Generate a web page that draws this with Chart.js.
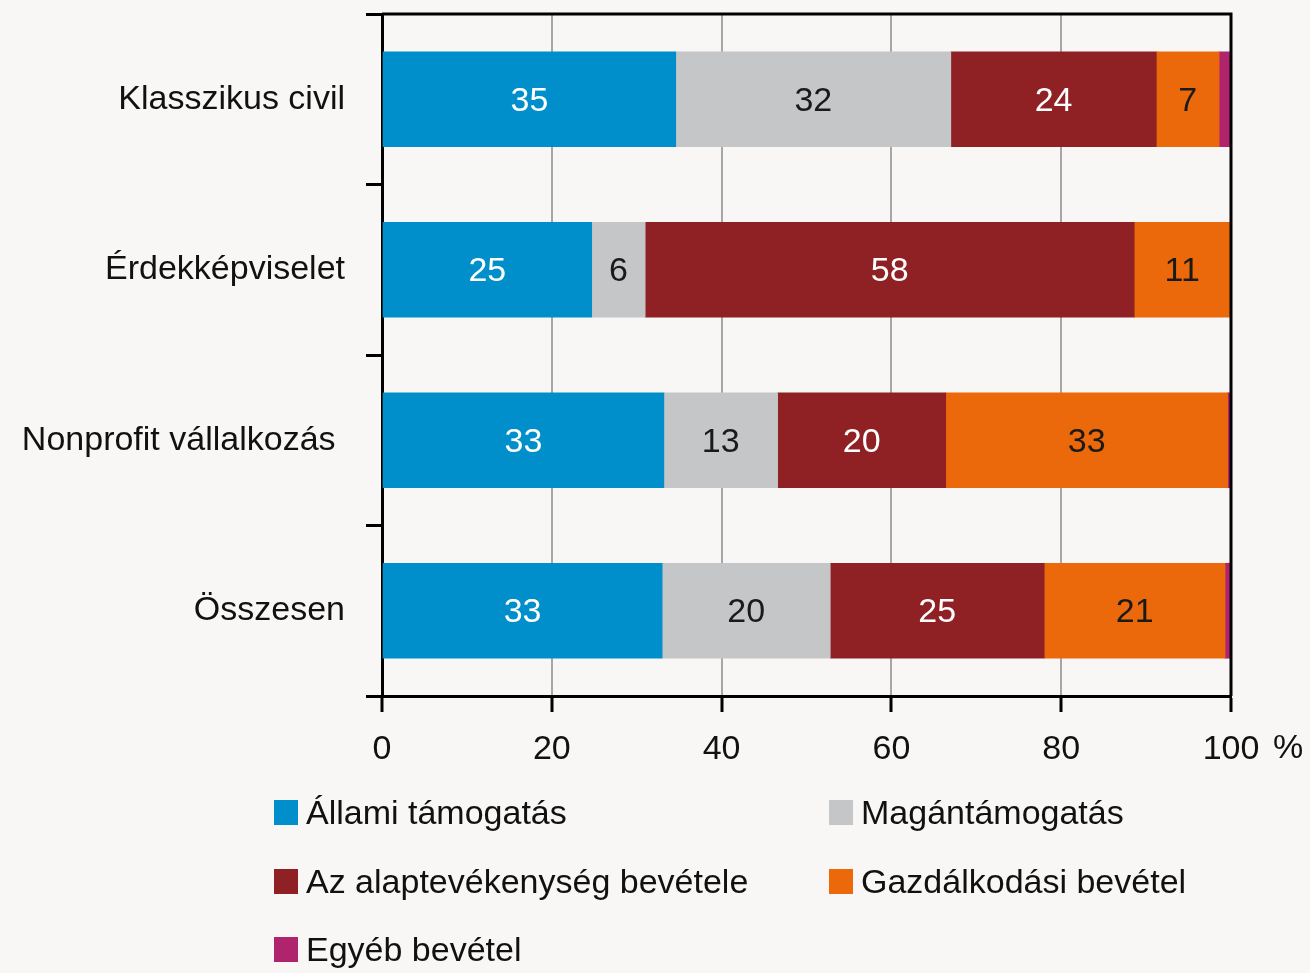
<!DOCTYPE html>
<html>
<head>
<meta charset="utf-8">
<script src="https://cdn.jsdelivr.net/npm/chart.js@4.4.0/dist/chart.umd.min.js"></script>
<style>
  html, body { margin: 0; padding: 0; background: #f8f7f5; }
  #wrap { position: relative; width: 1310px; height: 973px; }
  #chart { position: absolute; left: 0; top: 0; }
  .leg { position: absolute; display: flex; align-items: center; white-space: nowrap;
         font: 34px 'Liberation Sans', Arial, sans-serif; color: #111; }
  .leg .box { width: 24px; height: 25px; margin-right: 8px; }
</style>
</head>
<body>
<div id="wrap">
  <canvas id="chart" width="1310" height="973"></canvas>
</div>
<script>
const categories = ['Klasszikus civil', 'Érdekképviselet', 'Nonprofit vállalkozás ', 'Összesen'];
const allamiTamogatas = [34.6, 24.7, 33.2, 33.0];
const maganTamogatas  = [32.4,  6.3, 13.4, 19.8];
const alaptevekenyseg = [24.2, 57.6, 19.8, 25.2];
const gazdalkodasi    = [ 7.4, 11.3, 33.2, 21.3];
const egyebBevetel    = [ 1.4,  0.1,  0.4,  0.7];
const xTickValues     = [0, 20, 40, 60, 80, 100];

const FONT = "'Liberation Sans', Arial, sans-serif";

const datasets = [
  { label: 'Állami támogatás', data: allamiTamogatas, backgroundColor: '#008fca', labelColor: '#ffffff' },
  { label: 'Magántámogatás', data: maganTamogatas, backgroundColor: '#c5c6c8', labelColor: '#1a1a1a' },
  { label: 'Az alaptevékenység bevétele', data: alaptevekenyseg, backgroundColor: '#8f2024', labelColor: '#ffffff' },
  { label: 'Gazdálkodási bevétel', data: gazdalkodasi, backgroundColor: '#eb690b', labelColor: '#1a1a1a' },
  { label: 'Egyéb bevétel', data: egyebBevetel, backgroundColor: '#b0246e', labelColor: null }
];

// value numbers inside the segments
const valueLabels = {
  id: 'valueLabels',
  afterDatasetsDraw(chart) {
    const ctx = chart.ctx;
    ctx.save();
    ctx.font = '34px ' + FONT;
    ctx.textAlign = 'center';
    ctx.textBaseline = 'middle';
    chart.data.datasets.forEach((ds, i) => {
      if (!ds.labelColor) return;
      ctx.fillStyle = ds.labelColor;
      chart.getDatasetMeta(i).data.forEach((bar, j) => {
        const { x, y, base } = bar.getProps(['x', 'y', 'base'], true);
        ctx.fillText(String(Math.round(ds.data[j])), (x + base) / 2, y + 2);
      });
    });

    // top and right frame lines
    const a = chart.chartArea;
    ctx.strokeStyle = '#000';
    ctx.lineWidth = 3;
    ctx.beginPath();
    ctx.moveTo(a.left, a.top);
    ctx.lineTo(a.right, a.top);
    ctx.lineTo(a.right, a.bottom);
    ctx.stroke();

    // unit after the last x tick
    ctx.fillStyle = '#111';
    ctx.fillText('%', a.right + 57, a.bottom + 16 + 17 + 20);
    ctx.restore();
  }
};

new Chart(document.getElementById('chart'), {
  type: 'bar',
  data: { labels: categories, datasets },
  options: {
    indexAxis: 'y',
    responsive: false,
    animation: false,
    devicePixelRatio: 1,
    barThickness: 95,
    layout: { padding: { top: 14, right: 79, bottom: 0, left: 0 } },
    plugins: { legend: { display: false }, tooltip: { enabled: false } },
    scales: {
      x: {
        stacked: true,
        min: 0,
        max: 100,
        afterBuildTicks(scale) { scale.ticks = xTickValues.map(v => ({ value: v })); },
        ticks: { padding: 17, color: '#111', font: { family: FONT, size: 34 } },
        grid: { color: '#a6a6a6', lineWidth: 2, tickColor: '#000', tickWidth: 3, tickLength: 16 },
        border: { color: '#000', width: 3 },
        afterFit(scale) { scale.height = 277; }
      },
      y: {
        stacked: true,
        ticks: { padding: 21, color: '#111', font: { family: FONT, size: 34 } },
        grid: { offset: true, drawOnChartArea: false, color: '#000', lineWidth: 3,
                tickColor: '#000', tickWidth: 3, tickLength: 16 },
        border: { color: '#000', width: 3 },
        afterFit(scale) {
          scale.width = 382;
          scale.paddingTop = 0;
          scale.paddingBottom = 0;
        }
      }
    }
  },
  plugins: [valueLabels]
});

// two-column legend under the plot
const legendSpots = [[274, 800], [829, 800], [274, 869], [829, 869], [274, 937]];
const wrap = document.getElementById('wrap');
datasets.forEach((ds, i) => {
  const item = document.createElement('div');
  item.className = 'leg';
  item.style.left = legendSpots[i][0] + 'px';
  item.style.top = (legendSpots[i][1] - 8) + 'px';
  item.style.height = '41px';
  item.innerHTML = `<span class="box" style="background:${ds.backgroundColor}"></span>${ds.label}`;
  wrap.appendChild(item);
});
</script>
</body>
</html>
